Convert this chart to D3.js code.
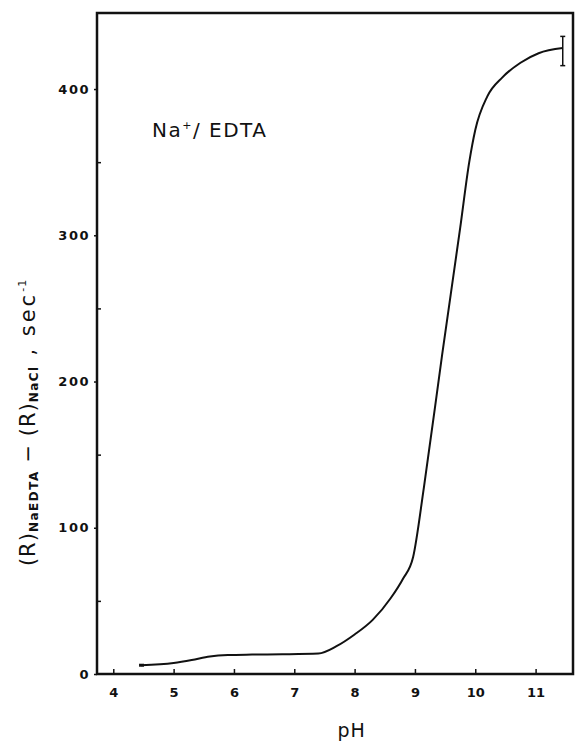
<!DOCTYPE html>
<html>
<head>
<meta charset="utf-8">
<script src="https://cdn.jsdelivr.net/npm/d3@7"></script>
<style>
  body { margin: 0; background: #fff; }
  text { font-family: "DejaVu Sans", sans-serif; fill: #111; }
</style>
</head>
<body>
<div id="chart"></div>
<script>
// curve
const ph = [4.46, 5.0, 5.3, 5.6, 5.9, 6.3, 6.8, 7.4, 7.7, 8.0, 8.3, 8.6, 8.8, 8.97, 9.15, 9.45, 9.75, 9.9, 10.0, 10.2, 10.45, 10.75, 11.05, 11.45];
const rate = [6, 7.5, 9.5, 12, 13, 13.3, 13.5, 14, 19, 27, 37, 52, 65, 80, 128, 218, 305, 350, 372, 395, 408, 418, 424.5, 428];
// error bar at the last point
const errPh = [11.45];
const errLow = [416];
const errHigh = [436];

const xTicks = [4, 5, 6, 7, 8, 9, 10, 11];
const yTicks = [0, 100, 200, 300, 400];
const yMinor = [50, 150, 250, 350];

const W = 577, H = 741;
const margin = {top: 13, right: 4, bottom: 67, left: 97};
const width = W - margin.left - margin.right;
const height = H - margin.top - margin.bottom;

const svg = d3.select("#chart")
    .append("svg")
    .attr("width", W)
    .attr("height", H)
    .append("g")
    .attr("transform", `translate(${margin.left}, ${margin.top})`);

const x = d3.scaleLinear().domain([3.73, 11.62]).range([0, width]);
const y = d3.scaleLinear().domain([0, 452]).range([height, 0]);

// frame
svg.append("rect")
    .attr("x", 0).attr("y", 0)
    .attr("width", width).attr("height", height)
    .attr("fill", "none")
    .attr("stroke", "#111")
    .attr("stroke-width", 2.5);

// X axis
const xAxis = svg.append("g")
    .attr("transform", `translate(0, ${height})`)
    .call(d3.axisBottom(x).tickValues(xTicks).tickSize(-5).tickPadding(14).tickFormat(d3.format("d")));
xAxis.select(".domain").remove();
xAxis.selectAll(".tick line").attr("stroke", "#111").attr("stroke-width", 1.5);
xAxis.selectAll("text")
    .style("font-size", "13px").style("font-weight", "bold");

// Y axis
const yAxis = svg.append("g")
    .call(d3.axisLeft(y).tickValues(yTicks).tickSize(3).tickPadding(4));
yAxis.select(".domain").remove();
yAxis.selectAll(".tick line").attr("stroke", "#111").attr("stroke-width", 1.5);
yAxis.selectAll("text")
    .style("font-size", "13px").style("font-weight", "bold")
    .style("letter-spacing", "1.5px");

svg.append("g")
    .call(d3.axisRight(y).tickValues(yMinor).tickSize(4).tickFormat(""))
    .call(g => g.select(".domain").remove())
    .selectAll(".tick line").attr("stroke", "#111").attr("stroke-width", 1.5);

// curve
const line = d3.line()
    .x((d, i) => x(ph[i]))
    .y((d, i) => y(rate[i]))
    .curve(d3.curveMonotoneX);

svg.append("path")
    .datum(rate)
    .attr("d", line)
    .attr("fill", "none")
    .attr("stroke", "#111")
    .attr("stroke-width", 2);

// start marker
svg.append("line")
    .attr("x1", x(ph[0]) - 2).attr("x2", x(ph[0]) + 3)
    .attr("y1", y(rate[0])).attr("y2", y(rate[0]))
    .attr("stroke", "#111").attr("stroke-width", 3);

// error bar
const eb = svg.selectAll(".err").data(errPh).join("g").attr("class", "err");
eb.append("line")
    .attr("x1", d => x(d)).attr("x2", d => x(d))
    .attr("y1", (d, i) => y(errLow[i])).attr("y2", (d, i) => y(errHigh[i]))
    .attr("stroke", "#111").attr("stroke-width", 1.5);
eb.append("line")
    .attr("x1", d => x(d) - 2.5).attr("x2", d => x(d) + 2.5)
    .attr("y1", (d, i) => y(errLow[i])).attr("y2", (d, i) => y(errLow[i]))
    .attr("stroke", "#111").attr("stroke-width", 1.5);
eb.append("line")
    .attr("x1", d => x(d) - 2.5).attr("x2", d => x(d) + 2.5)
    .attr("y1", (d, i) => y(errHigh[i])).attr("y2", (d, i) => y(errHigh[i]))
    .attr("stroke", "#111").attr("stroke-width", 1.5);

// title inside plot
const title = svg.append("text")
    .attr("x", 55)
    .attr("y", 124)
    .style("font-size", "20px")
    .style("letter-spacing", "1.5px");
title.append("tspan").text("Na");
title.append("tspan").attr("dy", -8).style("font-size", "11px").text("+");
title.append("tspan").attr("dy", 8).text("/ EDTA");

// X label
svg.append("text")
    .attr("x", x(7.95))
    .attr("y", height + 63)
    .attr("text-anchor", "middle")
    .style("font-size", "19px")
    .style("letter-spacing", "1px")
    .text("pH");

// Y label
const yl = svg.append("text")
    .attr("transform", `translate(-62, ${y(172)}) rotate(-90)`)
    .attr("text-anchor", "middle")
    .style("font-size", "21px")
    .style("letter-spacing", "1px");
yl.append("tspan").text("(R)");
yl.append("tspan").attr("dy", 3).style("font-size", "12px").style("font-weight", "bold").style("letter-spacing", "1.5px").text("NaEDTA");
yl.append("tspan").attr("dy", -3).text("   −   (R)");
yl.append("tspan").attr("dy", 3).style("font-size", "12px").style("font-weight", "bold").style("letter-spacing", "1.5px").text("NaCl");
yl.append("tspan").attr("dy", -3).style("letter-spacing", "3px").text("  ,  sec");
yl.append("tspan").attr("dy", -9).style("font-size", "11px").text("-1");
</script>
</body>
</html>
